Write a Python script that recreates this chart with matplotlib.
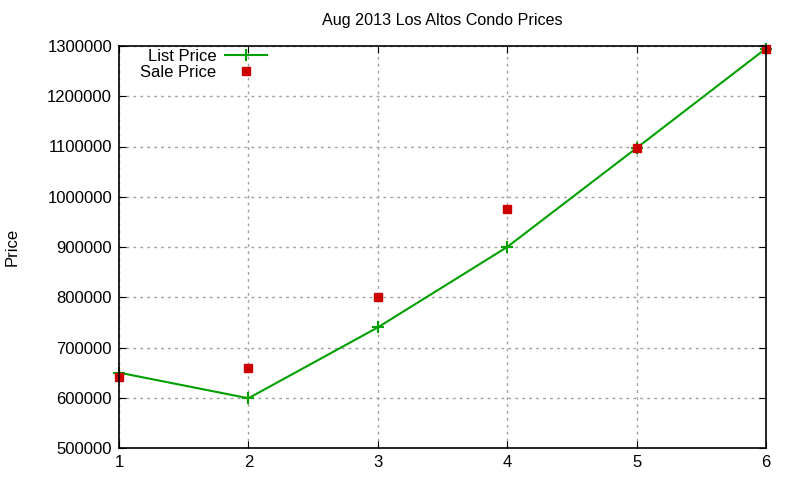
import matplotlib
matplotlib.use("Agg")
import matplotlib.pyplot as plt

plt.rcParams["font.family"] = ["Liberation Sans", "DejaVu Sans"]

x = [1, 2, 3, 4, 5, 6]
list_price = [650000, 599000, 740000, 900000, 1097000, 1295000]
sale_price = [641000, 660000, 800000, 975000, 1098000, 1295000]

yticks = list(range(500000, 1300001, 100000))

fig = plt.figure(figsize=(8, 4.8), dpi=100)
ax = fig.add_axes([119 / 800, 1 - 448 / 480, (766 - 119) / 800, (448 - 46) / 480])

ax.plot(x, list_price, color="#00a000", linewidth=1.5, marker="+",
        markersize=8, markeredgewidth=1.5, label="List Price", zorder=3,
        clip_on=False)
ax.plot(x, sale_price, linestyle="none", marker="s", color="#cc0000",
        markersize=5.5, label="Sale Price", zorder=4, clip_on=False)

ax.set_xlim(1, 6)
ax.set_ylim(500000, 1300000)
ax.set_xticks(x)
ax.set_yticks(yticks)
ax.set_yticklabels([str(v) for v in yticks])
ax.tick_params(direction="in", top=True, right=True, labelsize=12, length=5, pad=5)
ax.grid(True, color="#a0a0a0", linestyle=(0, (2, 3)), linewidth=1)
for s in ax.spines.values():
    s.set_linewidth(1.2)
    s.set_zorder(5)

ax.set_title("Aug 2013 Los Altos Condo Prices", fontsize=11.6, pad=15)
fig.text(12 / 800, 1 - 247 / 480, "Price", rotation=90, fontsize=12,
         ha="center", va="center")

leg = ax.legend(loc="upper right", markerfirst=False, frameon=False, fontsize=12,
                handlelength=2.5, handletextpad=0.55, borderaxespad=0.0,
                borderpad=0.0, labelspacing=0.05,
                bbox_to_anchor=((267 - 119) / 647, 1 - 3 / 402))
for t in leg.get_texts():
    t.set_ha("right")

fig.savefig("out.png", dpi=100)
